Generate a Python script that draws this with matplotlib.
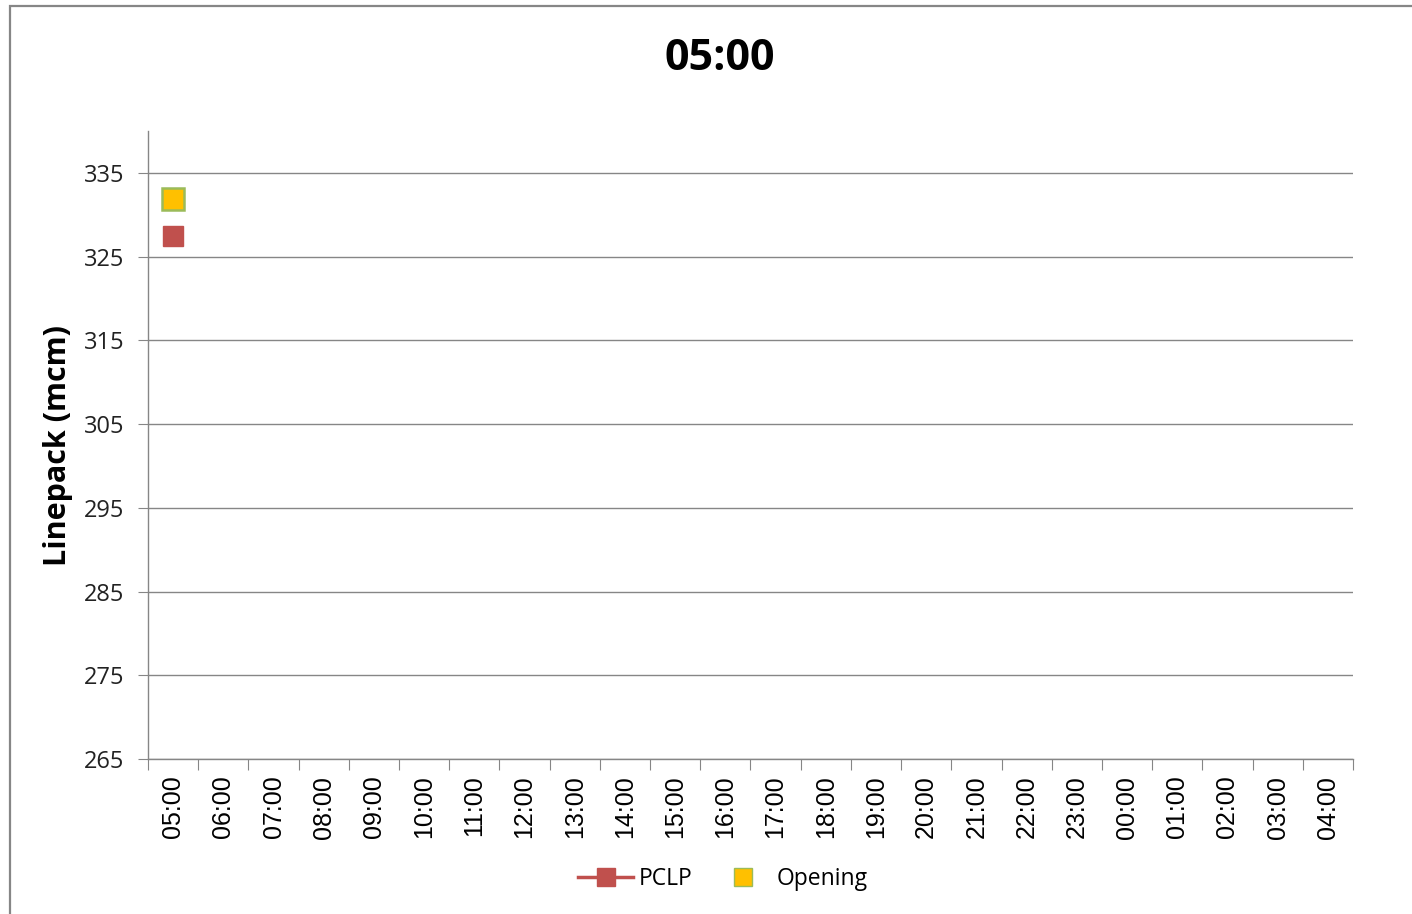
import matplotlib.pyplot as plt
from matplotlib.patches import Rectangle
from matplotlib.lines import Line2D

# hourly slots of the gas day, 05:00 through 04:00
hours = ['05:00', '06:00', '07:00', '08:00', '09:00', '10:00', '11:00', '12:00',
         '13:00', '14:00', '15:00', '16:00', '17:00', '18:00', '19:00', '20:00',
         '21:00', '22:00', '23:00', '00:00', '01:00', '02:00', '03:00', '04:00']
pclp = [327.5]      # only first hour reported so far
opening = [331.9]
y_ticks = [265, 275, 285, 295, 305, 315, 325, 335]

W, H = 1412, 914
fig = plt.figure(figsize=(W / 100, H / 100), dpi=100)

# grey chart-area border (runs off the right and bottom edges)
fig.patches.append(Rectangle((9.5 / W, -0.05), 1.2, 1 - 5.5 / H + 0.05,
                             transform=fig.transFigure, fill=False,
                             edgecolor='#868686', linewidth=1.6))

ax = fig.add_axes([148 / W, 1 - 759 / H, 1205 / W, (759 - 131) / H])

grid_c = '#868686'
x = list(range(len(hours)))

ax.plot(x[:len(pclp)], pclp, color='#C0504D', linewidth=2.5, marker='s',
        markersize=15, markeredgecolor='#C0504D', label='PCLP', zorder=3)
ax.plot(x[:len(opening)], opening, linestyle='none', marker='s', markersize=16.5,
        markerfacecolor='#FFC000', markeredgecolor='#9BBB59', markeredgewidth=1.8,
        label='Opening', zorder=4)

ax.set_xlim(-0.5, len(hours) - 0.5)
ax.set_ylim(265, 340)
ax.set_yticks(y_ticks)
ax.set_yticklabels([str(v) for v in y_ticks], fontsize=17, family='Open Sans',
                   color='#222222')
ax.yaxis.grid(True, color=grid_c, linewidth=1)
ax.set_axisbelow(True)

# category boundaries get the tick marks, labels sit at the centres
ax.set_xticks([i - 0.5 for i in range(len(hours) + 1)])
ax.set_xticklabels([])
ax.set_xticks(x, minor=True)
ax.set_xticklabels(hours, minor=True, rotation=90, fontsize=18,
                   family='Liberation Sans')
ax.tick_params(axis='x', which='major', length=8, color=grid_c, direction='out')
ax.tick_params(axis='x', which='minor', length=0, pad=12)
ax.tick_params(axis='y', length=7, color=grid_c, pad=10)

for side in ('top', 'right'):
    ax.spines[side].set_visible(False)
for side in ('left', 'bottom'):
    ax.spines[side].set_color(grid_c)
    ax.spines[side].set_linewidth(1)

ax.set_ylabel('Linepack (mcm)', fontsize=22, fontweight='bold',
              family='Open Sans', labelpad=8)
fig.text(720 / W, 1 - 59 / H, '05:00', fontsize=31, fontweight='bold',
         family='Open Sans', ha='center', va='center')

handles = [Line2D([], [], color='#C0504D', linewidth=2.5, marker='s',
                  markersize=13),
           Line2D([], [], linestyle='none', marker='s', markersize=13,
                  markerfacecolor='#FFC000', markeredgecolor='#9BBB59')]
fig.legend(handles, ['PCLP', 'Opening'], loc='center', ncol=2,
           bbox_to_anchor=(723 / W, 1 - 879 / H), frameon=False,
           prop={'family': 'Open Sans', 'size': 16.5}, handlelength=2.4,
           columnspacing=1.0, handletextpad=0.25)

fig.savefig('out.png', dpi=100)
